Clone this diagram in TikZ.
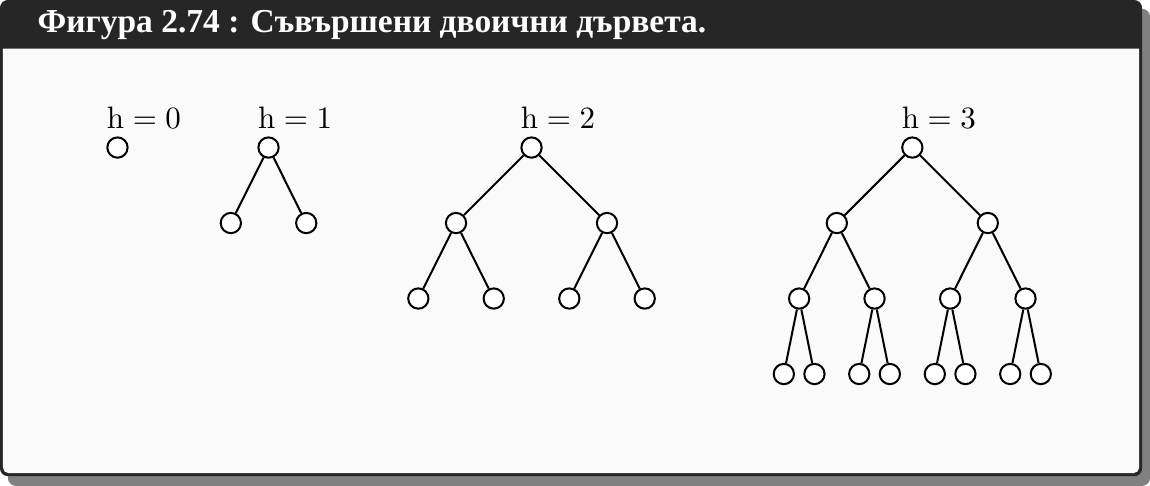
\documentclass[tikz,border=0pt]{standalone}
\usepackage{amsmath}
\usepackage{fontspec}
\newfontfamily\titlefont{Liberation Serif}
\usetikzlibrary{positioning}
\tikzset{
  frameshadow/.style={fill=black!50, rounded corners=0.09cm},
  framebox/.style={fill=black!85, rounded corners=0.09cm},
  framebody/.style={fill=black!2},
  ttl/.style={inner sep=0pt, text=white, font=\titlefont\bfseries\fontsize{10.8}{13}\selectfont},
}

\begin{document}
\begin{tikzpicture}[
  vtx/.style={circle, draw, fill=white, line width=0.65pt, inner sep=0pt,
              minimum size=0.23cm, on grid},
  edge/.style={line width=0.65pt},
  lbl/.style={inner sep=0pt, anchor=base west, yshift=0.084cm},
]
  \useasboundingbox (0,0) rectangle (13.04,-5.51);

  % frame
  \fill[frameshadow] (0.09,-0.10) rectangle (13.04,-5.51);
  \fill[framebox] (0,0) rectangle (12.95,-5.40);
  \fill[framebody] (0.034,-0.55) -- (12.916,-0.55) [rounded corners=0.06cm]
    -- (12.916,-5.364) -- (0.034,-5.364) [sharp corners] -- cycle;
  \node[ttl, anchor=base west] (title) at (0.42,-0.374)
    {Фигура 2.74 : Съвършени двоични дървета.};

  % h = 0
  \node[vtx] (t0) at (1.332,-1.673) {};

  % h = 1
  \node[vtx] (t1) at (3.045,-1.673) {};
  \node[vtx, below left=0.856cm and 0.4275cm of t1] (t1l) {};
  \node[vtx, below right=0.856cm and 0.4275cm of t1] (t1r) {};

  % h = 2
  \node[vtx] (t2) at (6.027,-1.673) {};
  \node[vtx, below left=0.856cm and 0.856cm of t2] (t2l) {};
  \node[vtx, below right=0.856cm and 0.856cm of t2] (t2r) {};
  \node[vtx, below left=0.856cm and 0.4275cm of t2l] (t2ll) {};
  \node[vtx, below right=0.856cm and 0.4275cm of t2l] (t2lr) {};
  \node[vtx, below left=0.856cm and 0.4275cm of t2r] (t2rl) {};
  \node[vtx, below right=0.856cm and 0.4275cm of t2r] (t2rr) {};

  % h = 3
  \node[vtx] (t3) at (10.345,-1.673) {};
  \node[vtx, below left=0.856cm and 0.856cm of t3] (t3l) {};
  \node[vtx, below right=0.856cm and 0.856cm of t3] (t3r) {};
  \node[vtx, below left=0.856cm and 0.4275cm of t3l] (t3ll) {};
  \node[vtx, below right=0.856cm and 0.4275cm of t3l] (t3lr) {};
  \node[vtx, below left=0.856cm and 0.4275cm of t3r] (t3rl) {};
  \node[vtx, below right=0.856cm and 0.4275cm of t3r] (t3rr) {};
  \foreach \p in {t3ll, t3lr, t3rl, t3rr} {
    \node[vtx, below left=0.856cm and 0.1735cm of \p] (\p l) {};
    \node[vtx, below right=0.856cm and 0.1735cm of \p] (\p r) {};
  }

  \foreach \a/\b in {t1/t1l, t1/t1r,
                     t2/t2l, t2/t2r, t2l/t2ll, t2l/t2lr, t2r/t2rl, t2r/t2rr,
                     t3/t3l, t3/t3r, t3l/t3ll, t3l/t3lr, t3r/t3rl, t3r/t3rr,
                     t3ll/t3lll, t3ll/t3llr, t3lr/t3lrl, t3lr/t3lrr,
                     t3rl/t3rll, t3rl/t3rlr, t3rr/t3rrl, t3rr/t3rrr}
    \draw[edge] (\a) -- (\b);

  % heights
  \foreach \t/\h in {t0/0, t1/1, t2/2, t3/3}
    \node[lbl] (h\h) at (\t.west |- \t.north) {$\mathrm{h}=\h$};

\end{tikzpicture}
\end{document}
